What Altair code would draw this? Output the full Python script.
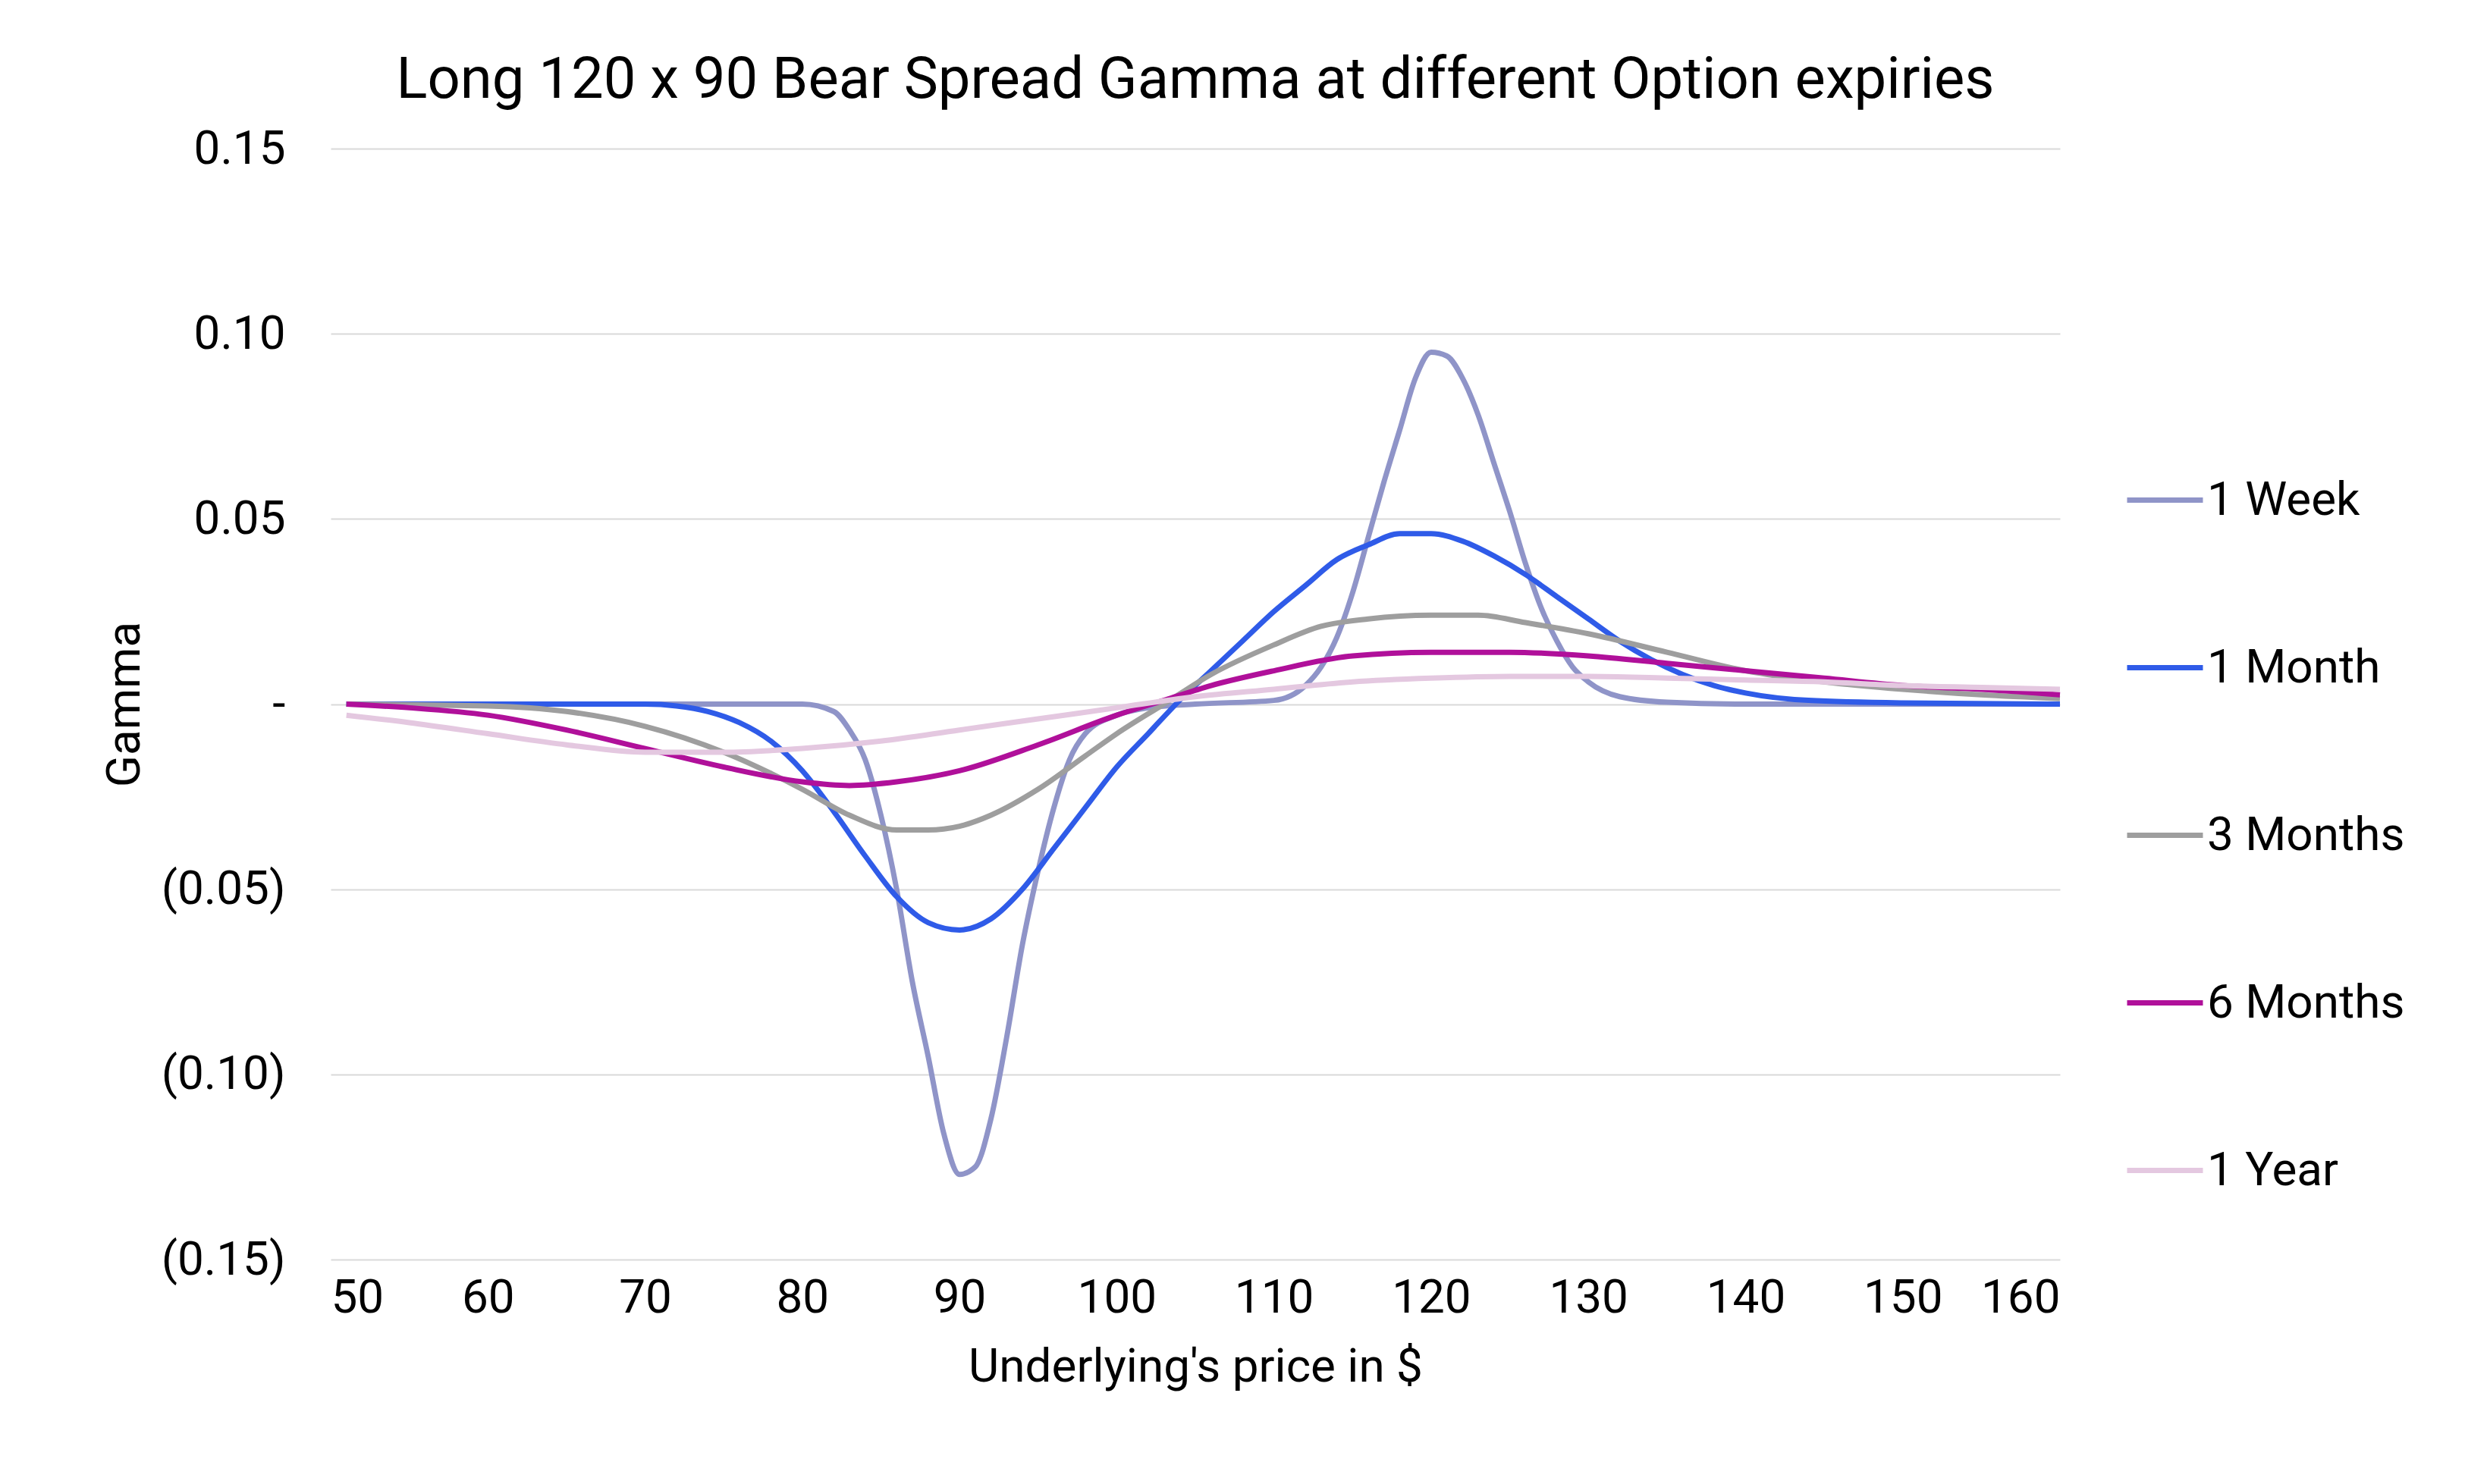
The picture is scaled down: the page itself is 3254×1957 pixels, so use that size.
import altair as alt
import pandas as pd

week_x = [51, 60, 70, 78, 80, 82, 83, 84, 85, 86, 87, 88, 89, 90, 91, 92, 93, 94, 95, 96, 97, 98, 100, 102,
          105, 110, 112, 113, 114, 115, 116, 117, 118, 119, 120, 121, 122, 123, 124, 125, 126, 127, 128,
          129, 130, 132, 135, 140, 150, 160]
week_y = [0, 0, 0, 0, 0, -0.002, -0.007, -0.015, -0.03, -0.05, -0.075, -0.095, -0.116, -0.127, -0.125,
          -0.112, -0.09, -0.065, -0.045, -0.028, -0.015, -0.008, -0.003, -0.001,
          0, 0.001, 0.005, 0.01, 0.018, 0.03, 0.045, 0.06, 0.074, 0.088, 0.095, 0.094, 0.088, 0.078,
          0.065, 0.052, 0.038, 0.026, 0.017, 0.01, 0.006, 0.002, 0.0005, 0, 0, 0]

month_x = [51, 60, 70, 72, 74, 76, 78, 80, 82, 84, 86, 88, 90, 92, 94, 96, 98, 100, 102, 104, 106, 108,
           110, 112, 114, 116, 118, 120, 122, 124, 126, 128, 130, 132, 134, 136, 138, 140, 144, 150, 160]
month_y = [0, 0, 0, -0.0005, -0.002, -0.005, -0.01, -0.018, -0.029, -0.041, -0.052, -0.059, -0.061,
           -0.058, -0.05, -0.039, -0.028, -0.017, -0.008, 0.001, 0.009, 0.017, 0.025, 0.032, 0.039,
           0.043, 0.046, 0.046, 0.044, 0.04, 0.035, 0.029, 0.023, 0.017, 0.012, 0.008, 0.005, 0.003,
           0.001, 0.0003, 0]

m3_x = [51, 60, 65, 70, 75, 80, 83, 86, 88, 90, 92, 95, 98, 100, 103, 106, 110, 113, 116, 120, 123,
        126, 130, 135, 140, 145, 150, 155, 160]
m3_y = [0, -0.0005, -0.002, -0.006, -0.013, -0.023, -0.03, -0.034, -0.034, -0.033, -0.03, -0.023,
        -0.014, -0.008, 0, 0.008, 0.016, 0.021, 0.023, 0.024, 0.024, 0.022, 0.019, 0.014, 0.009,
        0.006, 0.004, 0.0025, 0.0015]

m6_x = [51, 55, 60, 65, 70, 75, 80, 83, 86, 90, 95, 100, 103, 106, 110, 115, 120, 125, 130, 135,
        140, 145, 150, 155, 160]
m6_y = [0, -0.001, -0.003, -0.007, -0.012, -0.017, -0.021, -0.022, -0.021, -0.018, -0.011, -0.003,
        0.001, 0.005, 0.009, 0.013, 0.014, 0.014, 0.013, 0.011, 0.009, 0.007, 0.005, 0.004, 0.0025]

year_x = [51, 55, 60, 65, 70, 75, 80, 85, 90, 95, 100, 105, 110, 115, 120, 125, 130, 135, 140, 145,
          150, 155, 160]
year_y = [-0.003, -0.005, -0.008, -0.011, -0.013, -0.013, -0.012, -0.01, -0.007, -0.004, -0.001,
          0.002, 0.004, 0.006, 0.007, 0.0075, 0.0075, 0.007, 0.0065, 0.006, 0.005, 0.0045, 0.004]

series = ['1 Week', '1 Month', '3 Months', '6 Months', '1 Year']
colors = ['#8f94c8', '#2f5be8', '#9e9e9e', '#b0109a', '#e4c8e0']

frames = []
for name, xs, ys in zip(series, [week_x, month_x, m3_x, m6_x, year_x],
                        [week_y, month_y, m3_y, m6_y, year_y]):
    frames.append(pd.DataFrame({'price': xs, 'gamma': ys, 'expiry': name}))
df = pd.concat(frames)

label_expr = ("datum.value == 0 ? '-' : datum.value < 0 ? '(' + format(-datum.value, '.2f') + ')'"
              " : format(datum.value, '.2f')")

chart = alt.Chart(df).mark_line(strokeWidth=7, interpolate='monotone').encode(
    x=alt.X('price:Q', title="Underlying's price in $",
            scale=alt.Scale(domain=[50, 160], nice=False),
            axis=alt.Axis(values=list(range(50, 161, 10)), grid=False, domain=False, ticks=False,
                          labelPadding=20, titlePadding=30)),
    y=alt.Y('gamma:Q', title='Gamma',
            scale=alt.Scale(domain=[-0.15, 0.15], nice=False),
            axis=alt.Axis(values=[-0.15, -0.1, -0.05, 0, 0.05, 0.1, 0.15], labelExpr=label_expr,
                          domain=False, ticks=False, gridColor='#d9d9d9', gridWidth=2,
                          labelPadding=60, titlePadding=40)),
    color=alt.Color('expiry:N', title=None,
                    scale=alt.Scale(domain=series, range=colors),
                    legend=alt.Legend(symbolType='stroke', symbolStrokeWidth=7, symbolSize=10000,
                                      rowPadding=136, labelFontSize=62, labelOffset=2,
                                      orient='none', legendX=2365, legendY=410, labelLimit=600)),
    order=alt.Order('price:Q')
).properties(
    width=2280,
    height=1465,
    padding={'left': 125, 'top': 60, 'right': 20, 'bottom': 20},
    title=alt.Title('Long 120 x 90 Bear Spread Gamma at different Option expiries',
                    fontSize=76, fontWeight='normal', offset=20)
).configure(font='Roboto').configure_axis(
    labelFontSize=62, titleFontSize=62, titleFontWeight='normal', labelColor='#000', titleColor='#000'
).configure_legend(labelColor='#000').configure_title(color='#000').configure_view(stroke=None)

chart.save("out.html", embed_options={"renderer": "svg", "actions": False})
